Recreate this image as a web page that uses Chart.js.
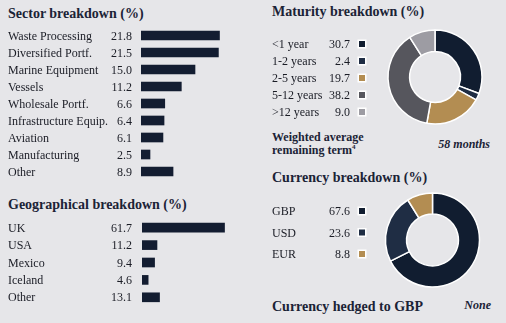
<!DOCTYPE html>
<html>
<head>
<meta charset="utf-8">
<script src="https://cdn.jsdelivr.net/npm/chart.js@4.4.0/dist/chart.umd.min.js"></script>
<style>
  body { margin: 0; background: #e6e6e9; width: 506px; height: 323px; overflow: hidden; position: relative;
         font-family: "Liberation Serif", "Times New Roman", serif; }
  canvas { position: absolute; }
  .title { position: absolute; font-weight: bold; font-size: 14px; line-height: 14px; color: #1b2336; white-space: nowrap; }
  .note { position: absolute; font-weight: bold; font-size: 12px; line-height: 13px; color: #1b2336; white-space: nowrap; }
  .note sup { font-size: 7px; vertical-align: 5px; line-height: 0; }
  .val { position: absolute; font-weight: bold; font-style: italic; font-size: 12px; line-height: 13px; color: #1b2336; }
</style>
</head>
<body>

<div class="title" style="left:8px; top:7px;">Sector breakdown (%)</div>
<div class="title" style="left:8px; top:198px;">Geographical breakdown (%)</div>
<div class="title" style="left:272px; top:5px;">Maturity breakdown (%)</div>
<div class="title" style="left:272px; top:171px;">Currency breakdown (%)</div>
<div class="note" style="left:272px; top:131px;">Weighted average<br>remaining term<sup>4</sup></div>
<div class="val" style="right:16px; top:138px;">58 months</div>
<div class="title" style="left:272px; top:300px;">Currency hedged to GBP</div>
<div class="val" style="right:15px; top:299px;">None</div>

<canvas id="sectorChart" width="250" height="153" style="left:0; top:27px;"></canvas>
<canvas id="geoChart" width="250" height="87" style="left:0; top:219px;"></canvas>
<canvas id="maturityChart" width="246" height="100" style="left:260px; top:27px;"></canvas>
<canvas id="currencyChart" width="246" height="100" style="left:260px; top:190px;"></canvas>

<script>
// data
const sectorLabels = ['Waste Processing', 'Diversified Portf.', 'Marine Equipment', 'Vessels',
                      'Wholesale Portf.', 'Infrastructure Equip.', 'Aviation', 'Manufacturing', 'Other'];
const sectorValues = [21.8, 21.5, 15.0, 11.2, 6.6, 6.4, 6.1, 2.5, 8.9];

const geoLabels = ['UK', 'USA', 'Mexico', 'Iceland', 'Other'];
const geoValues = [61.7, 11.2, 9.4, 4.6, 13.1];

const maturityLabels = ['<1 year', '1-2 years', '2-5 years', '5-12 years', '>12 years'];
const maturityValues = [30.7, 2.4, 19.7, 38.2, 9.0];

const currencyLabels = ['GBP', 'USD', 'EUR'];
const currencyValues = [67.6, 23.6, 8.8];

const barColor = '#131d31';
const textColor = '#1a1c25';
const maturityColors = ['#111d30', '#1f2d44', '#b38d52', '#56565d', '#9d9ca3'];
const currencyColors = ['#111d30', '#1f2d44', '#b38d52'];

// label + value in front of each bar
const rowLabels = {
    id: 'rowLabels',
    afterDatasetsDraw(chart) {
        let ctx = chart.ctx;
        let meta = chart.getDatasetMeta(0);
        ctx.save();
        ctx.font = '12px "Liberation Serif"';
        ctx.fillStyle = textColor;
        meta.data.forEach((bar, i) => {
            ctx.textAlign = 'left';
            ctx.fillText(chart.data.labels[i], 8, bar.y + 4);
            ctx.textAlign = 'right';
            ctx.fillText(chart.data.datasets[0].data[i].toFixed(1), 132, bar.y + 4);
        });
        ctx.restore();
    }
};

function createBarChart(id, labels, values, padLeft, max) {
    let ctx = document.getElementById(id).getContext('2d');
    return new Chart(ctx, {
        type: 'bar',
        data: {
            labels: labels,
            datasets: [{ data: values, backgroundColor: barColor, barThickness: 9 }]
        },
        options: {
            indexAxis: 'y',
            responsive: false,
            animation: false,
            layout: { padding: { left: padLeft, right: 1, top: 0, bottom: 0 } },
            scales: {
                x: { display: false, min: 0, max: max },
                y: { display: false }
            },
            plugins: { legend: { display: false }, tooltip: { enabled: false } }
        },
        plugins: [rowLabels]
    });
}

// legend rows drawn to the left of the doughnut
function legendRows(rowTop, rowGap) {
    return {
        id: 'legendRows',
        afterDraw(chart) {
            let ctx = chart.ctx;
            let ds = chart.data.datasets[0];
            ctx.save();
            ctx.font = '12px "Liberation Serif"';
            for (let i = 0; i < ds.data.length; i++) {
                let y = rowTop + i * rowGap;
                ctx.fillStyle = textColor;
                ctx.textAlign = 'left';
                ctx.fillText(chart.data.labels[i], 12, y + 4);
                ctx.textAlign = 'right';
                ctx.fillText(ds.data[i].toFixed(1), 90, y + 4);
                ctx.fillStyle = '#ffffff';
                ctx.fillRect(97.5, y - 4.5, 9, 9);
                ctx.fillStyle = ds.backgroundColor[i];
                ctx.fillRect(99, y - 3, 6, 6);
            }
            ctx.restore();
        }
    };
}

function createDonut(id, labels, values, colors, padLeft, cutout, rowTop, rowGap) {
    let ctx = document.getElementById(id).getContext('2d');
    return new Chart(ctx, {
        type: 'doughnut',
        data: {
            labels: labels,
            datasets: [{ data: values, backgroundColor: colors, borderColor: '#ffffff', borderWidth: 1.5 }]
        },
        options: {
            responsive: false,
            animation: false,
            radius: 47,
            cutout: cutout,
            layout: { padding: { left: padLeft, right: 246 - padLeft - 94, top: 0, bottom: 0 } },
            plugins: { legend: { display: false }, tooltip: { enabled: false } }
        },
        plugins: [legendRows(rowTop, rowGap)]
    });
}

createBarChart('sectorChart', sectorLabels, sectorValues, 141, 30);
createBarChart('geoChart', geoLabels, geoValues, 142, 80);
createDonut('maturityChart', maturityLabels, maturityValues, maturityColors, 128, 25, 17, 17);
createDonut('currencyChart', currencyLabels, currencyValues, currencyColors, 125.5, 25.5, 21, 21.5);
</script>
</body>
</html>
